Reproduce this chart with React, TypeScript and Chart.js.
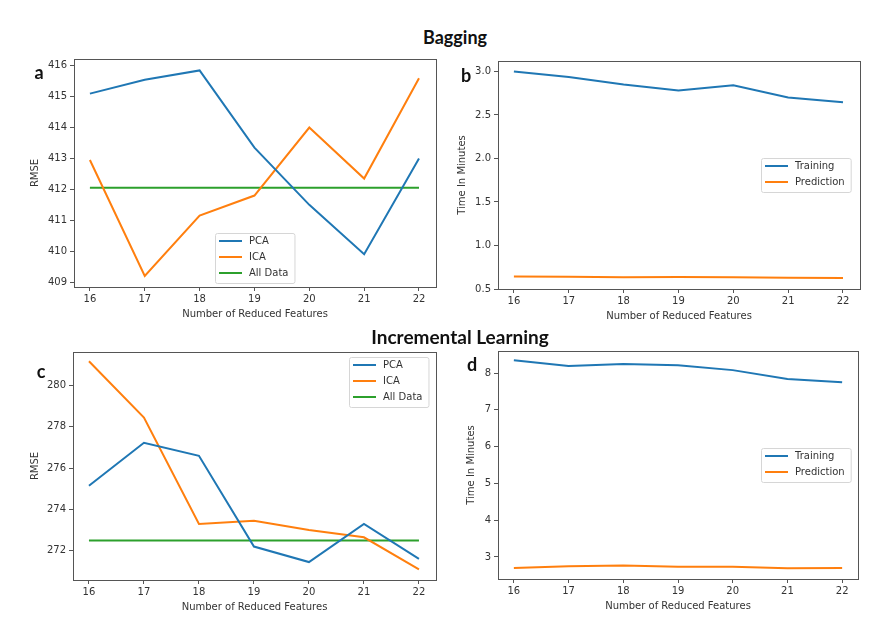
import React, { useEffect, useRef } from "react";
import { Chart, registerables } from "chart.js";

Chart.register(...registerables);

// ---------- data ----------
const features = [16, 17, 18, 19, 20, 21, 22];

const baggingPCA = [415.1, 415.55, 415.85, 413.35, 411.5, 409.9, 413.0];
const baggingICA = [412.95, 409.2, 411.15, 411.8, 414.0, 412.35, 415.6];
const baggingAllData = [412.05, 412.05, 412.05, 412.05, 412.05, 412.05, 412.05];

const baggingTraining = [3.0, 2.935, 2.85, 2.78, 2.84, 2.7, 2.645];
const baggingPrediction = [0.645, 0.64, 0.635, 0.637, 0.635, 0.63, 0.625];

const incrementalPCA = [275.15, 277.23, 276.6, 272.2, 271.45, 273.3, 271.6];
const incrementalICA = [281.18, 278.45, 273.3, 273.45, 273.0, 272.65, 271.1];
const incrementalAllData = [272.5, 272.5, 272.5, 272.5, 272.5, 272.5, 272.5];

const incrementalTraining = [8.35, 8.19, 8.245, 8.21, 8.08, 7.84, 7.75];
const incrementalPrediction = [2.7, 2.745, 2.77, 2.73, 2.735, 2.69, 2.7];

const BLUE = "#1f77b4";
const ORANGE = "#ff7f0e";
const GREEN = "#2ca02c";

const TEXT = "#333333";
const FRAME = "#555555";
const FONT = "'DejaVu Sans', sans-serif";

type Series = { label: string; values: number[]; color: string };
type PanelCfg = {
  left: number; top: number; width: number; height: number;
  padTop: number; padRight: number; yWidth: number; xHeight: number;
  yTitlePad: number; xTitlePad: number;
  yMin: number; yMax: number; yStep: number; yDecimals: number; yTitle: string;
  xMin: number; xMax: number;
  series: Series[];
  legendDx: number; legendDy: number;
};

const panels: PanelCfg[] = [
  {
    left: 0, top: 50, width: 440, height: 270,
    padTop: 7, padRight: 4, yWidth: 74, xHeight: 33, yTitlePad: 29, xTitlePad: 0,
    yMin: 408.84, yMax: 416.22, yStep: 1, yDecimals: 0, yTitle: "RMSE",
    xMin: 15.71, xMax: 22.31,
    series: [
      { label: "PCA", values: baggingPCA, color: BLUE },
      { label: "ICA", values: baggingICA, color: ORANGE },
      { label: "All Data", values: baggingAllData, color: GREEN },
    ],
    legendDx: 141, legendDy: 174,
  },
  {
    left: 440, top: 50, width: 444, height: 272,
    padTop: 11, padRight: 24, yWidth: 58, xHeight: 33, yTitlePad: 16, xTitlePad: 0,
    yMin: 0.5, yMax: 3.12, yStep: 0.5, yDecimals: 1, yTitle: "Time In Minutes",
    xMin: 15.71, xMax: 22.31,
    series: [
      { label: "Training", values: baggingTraining, color: BLUE },
      { label: "Prediction", values: baggingPrediction, color: ORANGE },
    ],
    legendDx: 263, legendDy: 97,
  },
  {
    left: 0, top: 330, width: 440, height: 285,
    padTop: 22, padRight: 4, yWidth: 73, xHeight: 35, yTitlePad: 29, xTitlePad: 2,
    yMin: 270.58, yMax: 281.63, yStep: 2, yDecimals: 0, yTitle: "RMSE",
    xMin: 15.71, xMax: 22.31,
    series: [
      { label: "PCA", values: incrementalPCA, color: BLUE },
      { label: "ICA", values: incrementalICA, color: ORANGE },
      { label: "All Data", values: incrementalAllData, color: GREEN },
    ],
    legendDx: 276, legendDy: 5,
  },
  {
    left: 440, top: 330, width: 444, height: 285,
    padTop: 21, padRight: 26, yWidth: 58, xHeight: 36, yTitlePad: 25, xTitlePad: 3,
    yMin: 2.4, yMax: 8.6, yStep: 1, yDecimals: 0, yTitle: "Time In Minutes",
    xMin: 15.71, xMax: 22.29,
    series: [
      { label: "Training", values: incrementalTraining, color: BLUE },
      { label: "Prediction", values: incrementalPrediction, color: ORANGE },
    ],
    legendDx: 263, legendDy: 97,
  },
];

function Panel({ cfg }: { cfg: PanelCfg }) {
  const ref = useRef<HTMLCanvasElement | null>(null);

  useEffect(() => {
    const canvas = ref.current;
    if (!canvas) return;
    const font = { family: FONT, size: 10 };

    const framePlugin = {
      id: "frame",
      afterDatasetsDraw(chart: any) {
        const { ctx, chartArea: a } = chart;
        ctx.save();
        ctx.strokeStyle = FRAME;
        ctx.lineWidth = 1;
        ctx.strokeRect(Math.round(a.left) + 0.5, Math.round(a.top) + 0.5, Math.round(a.right - a.left), Math.round(a.bottom - a.top));
        ctx.restore();
      },
    };

    const legendPlugin = {
      id: "mplLegend",
      afterDraw(chart: any) {
        const { ctx, chartArea: a } = chart;
        const items = chart.data.datasets;
        ctx.save();
        ctx.font = `10px ${FONT}`;
        let maxW = 0;
        items.forEach((d: any) => { maxW = Math.max(maxW, ctx.measureText(d.label).width); });
        const bx = a.left + cfg.legendDx;
        const by = a.top + cfg.legendDy;
        const rowH = 16;
        const bw = 34 + maxW + 6;
        const bh = 8 + rowH * (items.length - 1) + 10;
        ctx.fillStyle = "rgba(255,255,255,0.85)";
        ctx.strokeStyle = "#d6d6d6";
        ctx.lineWidth = 1;
        ctx.beginPath();
        (ctx as any).roundRect(bx + 0.5, by + 0.5, bw, bh, 2);
        ctx.fill();
        ctx.stroke();
        items.forEach((d: any, i: number) => {
          const y = by + 8 + i * rowH;
          ctx.strokeStyle = d.borderColor;
          ctx.lineWidth = 2;
          ctx.beginPath();
          ctx.moveTo(bx + 4, y);
          ctx.lineTo(bx + 27, y);
          ctx.stroke();
          ctx.fillStyle = TEXT;
          ctx.textBaseline = "middle";
          ctx.textAlign = "left";
          ctx.fillText(d.label, bx + 34, y);
        });
        ctx.restore();
      },
    };

    const chart = new Chart(canvas, {
      type: "line",
      data: {
        datasets: cfg.series.map((s) => ({
          label: s.label,
          data: features.map((x, i) => ({ x, y: s.values[i] })),
          borderColor: s.color,
          backgroundColor: s.color,
          borderWidth: 2,
          pointRadius: 0,
          tension: 0,
          fill: false,
        })),
      },
      options: {
        animation: false,
        responsive: false,
        devicePixelRatio: 1,
        events: [],
        layout: { padding: { left: 0, top: cfg.padTop, right: cfg.padRight, bottom: 0 } },
        plugins: { legend: { display: false }, tooltip: { enabled: false } },
        scales: {
          x: {
            type: "linear",
            min: cfg.xMin,
            max: cfg.xMax,
            border: { display: false },
            grid: { drawOnChartArea: false, drawTicks: true, tickLength: 4, color: FRAME },
            ticks: { stepSize: 1, includeBounds: false, font, color: TEXT, padding: 2, maxRotation: 0 },
            title: { display: true, text: "Number of Reduced Features", font, color: TEXT, padding: { top: 0, bottom: cfg.xTitlePad } },
            afterFit: (s: any) => { s.height = cfg.xHeight; },
          },
          y: {
            type: "linear",
            min: cfg.yMin,
            max: cfg.yMax,
            border: { display: false },
            grid: { drawOnChartArea: false, drawTicks: true, tickLength: 4, color: FRAME },
            ticks: {
              stepSize: cfg.yStep, includeBounds: false, font, color: TEXT, padding: 3,
              callback: (v: any) => Number(v).toFixed(cfg.yDecimals),
            },
            title: { display: true, text: cfg.yTitle, font, color: TEXT, padding: { top: cfg.yTitlePad, bottom: 0 } },
            afterFit: (s: any) => { s.width = cfg.yWidth; },
          },
        },
      } as any,
      plugins: [framePlugin, legendPlugin],
    });
    return () => chart.destroy();
  }, [cfg]);

  return (
    <canvas
      ref={ref}
      width={cfg.width}
      height={cfg.height}
      style={{ position: "absolute", left: cfg.left, top: cfg.top, width: cfg.width, height: cfg.height }}
    />
  );
}

const headingStyle: React.CSSProperties = {
  position: "absolute",
  transform: "translate(-50%, -50%)",
  fontFamily: "Lato, 'Open Sans', sans-serif",
  fontWeight: 700,
  color: "#111",
  whiteSpace: "nowrap",
  lineHeight: 1,
};

export default function App() {
  return (
    <div style={{ position: "absolute", left: 0, top: 0, width: 884, height: 640, background: "#fff", overflow: "hidden" }}>
      {panels.map((p, i) => (
        <Panel key={i} cfg={p} />
      ))}
      <div style={{ ...headingStyle, left: 455, top: 37, fontSize: 18 }}>Bagging</div>
      <div style={{ ...headingStyle, left: 460, top: 336, fontSize: 19 }}>Incremental Learning</div>
      <div style={{ ...headingStyle, left: 39, top: 72, fontSize: 18 }}>a</div>
      <div style={{ ...headingStyle, left: 466, top: 75, fontSize: 18 }}>b</div>
      <div style={{ ...headingStyle, left: 41, top: 371, fontSize: 18 }}>c</div>
      <div style={{ ...headingStyle, left: 472, top: 364, fontSize: 18 }}>d</div>
    </div>
  );
}
